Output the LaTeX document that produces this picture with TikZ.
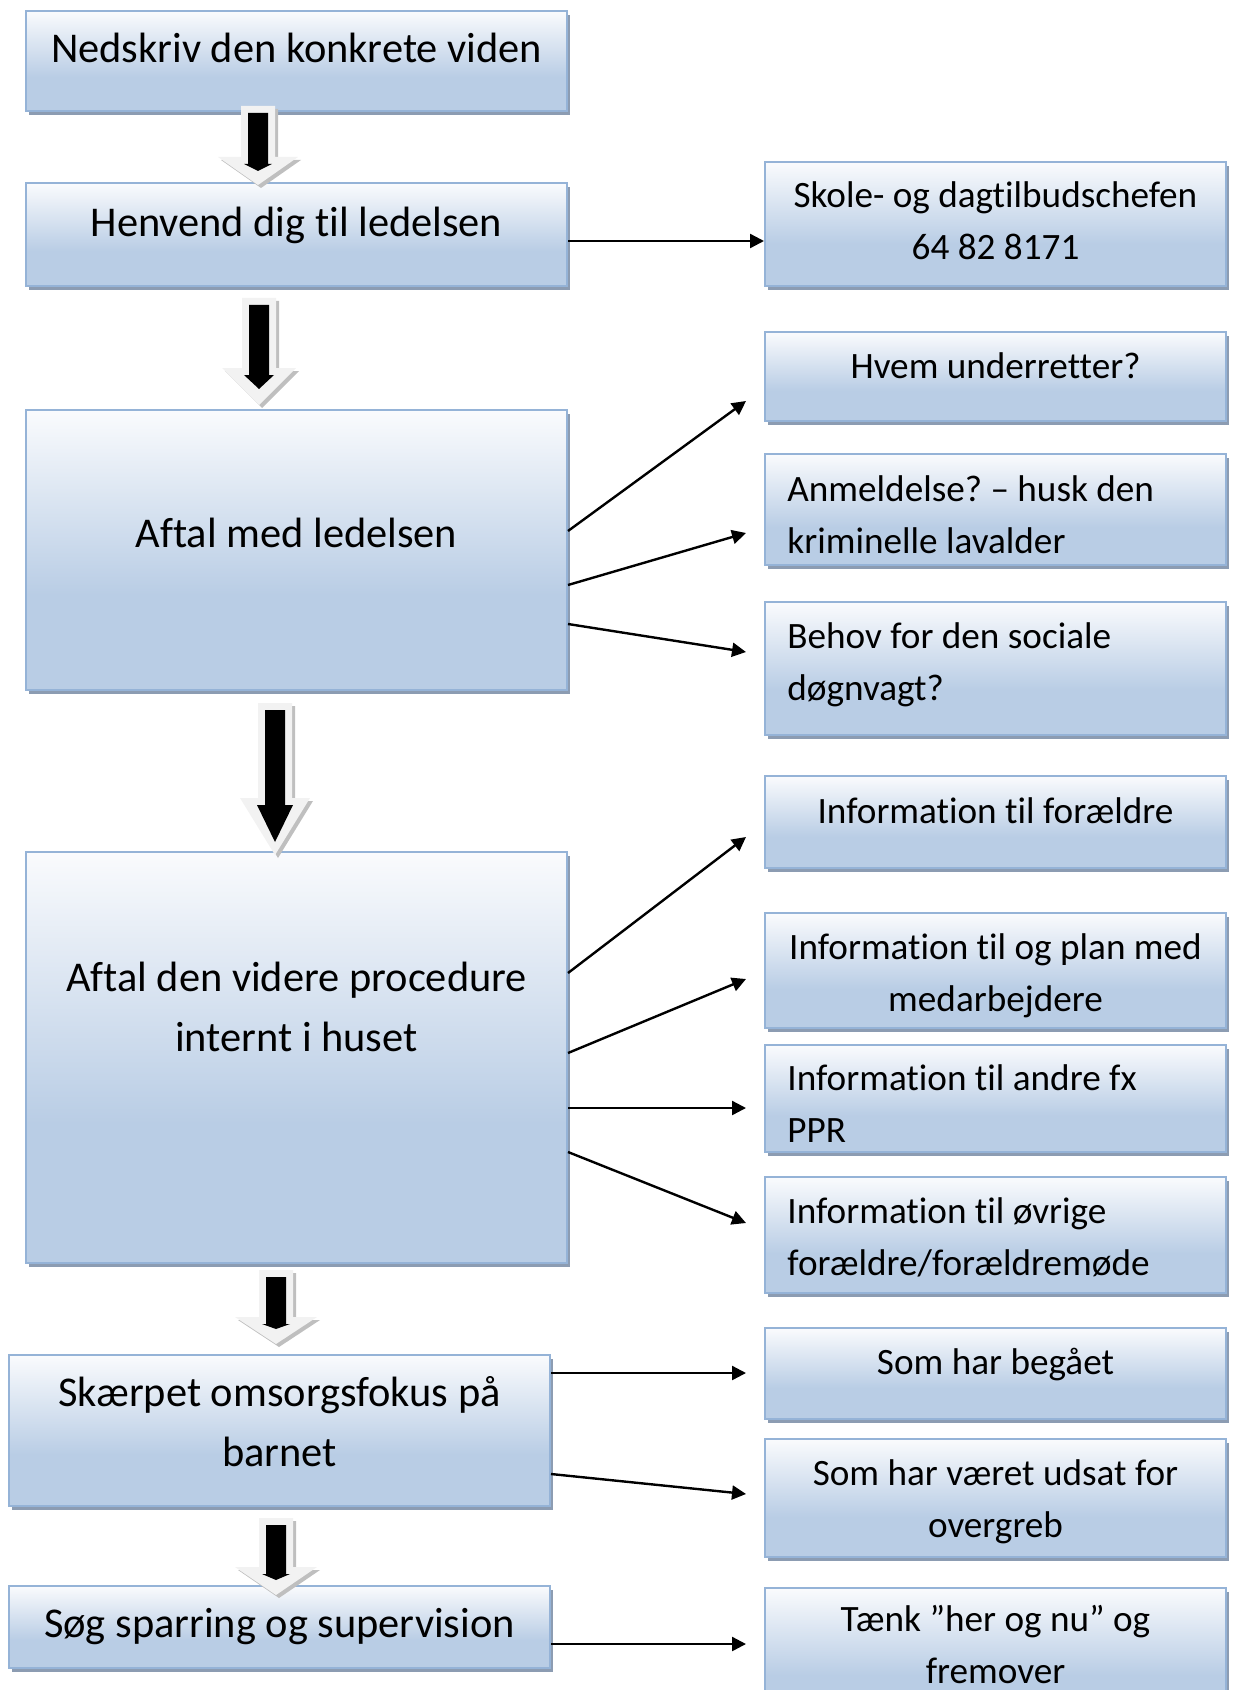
\documentclass[tikz,border=0pt]{standalone}
\usepackage{fontspec}
\setmainfont{Carlito}[Ligatures={TeX,NoCommon}]
\usetikzlibrary{shadows,arrows.meta,calc}

\definecolor{boxline}{RGB}{149,179,215}
\definecolor{boxtop}{RGB}{250,251,253}
\definecolor{boxbot}{RGB}{185,205,229}
\definecolor{boxshadow}{RGB}{140,156,178}
\definecolor{arrowbody}{RGB}{242,242,242}
\definecolor{arrowshadow}{RGB}{191,191,191}

\pgfdeclareverticalshading{boxfade}{100bp}{color(0bp)=(boxbot); color(25bp)=(boxbot); color(42bp)=(boxbot); color(75bp)=(boxtop); color(100bp)=(boxtop)}

\tikzset{
  box/.style={rectangle, draw=boxline, line width=1pt, shade, shading=boxfade,
    drop shadow={shadow xshift=1.5pt, shadow yshift=-2pt, fill=boxshadow, opacity=1}, inner sep=0pt},
  leftbox/.style={box, minimum width=270.5pt},
  rightbox/.style={box, minimum width=230.5pt},
  lefttext/.style={font=\fontsize{21.2}{30}\selectfont, align=center, anchor=base, inner sep=0pt},
  righttext/.style={font=\fontsize{18.6}{26}\selectfont, align=center, anchor=base, inner sep=0pt},
  lefttextl/.style={righttext, align=left, anchor=base west},
  link/.style={line width=1.2pt, -{Triangle[length=7pt,width=7pt]}}
}

% cx, top, head start, tip, outer head half width, inner head half width, inner tip
\newcommand{\blockarrow}[7]{%
  \fill[arrowshadow,shift={(3,3)}] (#1-17,#2) -- (#1+17,#2) -- (#1+17,#3) -- (#1+#5,#3) -- (#1,#4) -- (#1-#5,#3) -- (#1-17,#3) -- cycle;
  \fill[arrowbody] (#1-17,#2) -- (#1+17,#2) -- (#1+17,#3) -- (#1+#5,#3) -- (#1,#4) -- (#1-#5,#3) -- (#1-17,#3) -- cycle;
  \fill[black] (#1-10,#2+7) -- (#1+10,#2+7) -- (#1+10,#3+7) -- (#1+#6,#3+7) -- (#1,#7) -- (#1-#6,#3+7) -- (#1-10,#3+7) -- cycle;
}

\begin{document}
\frenchspacing
\begin{tikzpicture}[x=0.5pt,y=-0.5pt]
\useasboundingbox (0,0) rectangle (1235,1690);
\clip (0,0) rectangle (1235,1690);

% left column
\node[leftbox, minimum height=50pt] (b1) at (296.5,61) {};
\node[leftbox, minimum height=51.5pt] (b2) at (296.5,234.5) {};
\node[leftbox, minimum height=140pt] (b3) at (296.5,550) {};
\node[leftbox, minimum height=205.5pt] (b4) at (296.5,1057.5) {};
\node[leftbox, minimum height=75.5pt] (b5) at (279.5,1430.5) {};
\node[leftbox, minimum height=41pt] (b6) at (279.5,1627) {};

% multi-line text: base is the last line
\node[lefttext] (t1) at (296.5,63) {Nedskriv den konkrete viden};
\node[lefttext] (t2) at (296.5,237) {Henvend dig til ledelsen};
\node[lefttext] (t3) at (296.5,547) {Aftal med ledelsen};
\node[lefttext] (t4) at (296.5,1051) {Aftal den videre procedure\\internt i huset};
\node[lefttext] (t5) at (279.5,1466) {Skærpet omsorgsfokus på\\barnet};
\node[lefttext] (t6) at (279.5,1637) {Søg sparring og supervision};

% right column
\node[rightbox, minimum height=62pt] (r1) at (995.5,224) {};
\node[rightbox, minimum height=44.5pt] (r2) at (995.5,376.5) {};
\node[rightbox, minimum height=55.5pt] (r3) at (995.5,509.5) {};
\node[rightbox, minimum height=66.5pt] (r4) at (995.5,668.5) {};
\node[rightbox, minimum height=46pt] (r5) at (995.5,822) {};
\node[rightbox, minimum height=57.5pt] (r6) at (995.5,970.5) {};
\node[rightbox, minimum height=53.5pt] (r7) at (995.5,1098.5) {};
\node[rightbox, minimum height=58pt] (r8) at (995.5,1235) {};
\node[rightbox, minimum height=45.5pt] (r9) at (995.5,1373.5) {};
\node[rightbox, minimum height=59pt] (r10) at (995.5,1498) {};
\node[rightbox, minimum height=66pt] (r11) at (995.5,1654) {};

\node[righttext] (s1) at (995.5,260) {Skole- og dagtilbudschefen\\64 82 8171};
\node[righttext] (s2) at (995.5,379) {Hvem underretter?};
\node[lefttextl] (s3) at (787,553) {Anmeldelse? – husk den\\kriminelle lavalder};
\node[lefttextl] (s4) at (787,700) {Behov for den sociale\\døgnvagt?};
\node[righttext] (s5) at (995.5,823) {Information til forældre};
\node[righttext] (s6) at (995.5,1011) {Information til og plan med\\medarbejdere};
\node[lefttextl] (s7) at (787,1142) {Information til andre fx\\PPR};
\node[lefttextl] (s8) at (787,1275) {Information til øvrige\\forældre/forældremøde};
\node[righttext] (s9) at (995.5,1374) {Som har begået};
\node[righttext] (s10) at (995.5,1537) {Som har været udsat for\\overgreb};
\node[righttext] (s11) at (995.5,1683) {Tænk ”her og nu” og\\fremover};

% block arrows
\blockarrow{258}{106}{157}{185}{40}{14}{171}
\blockarrow{259}{298}{368}{405}{37}{15}{389}
\blockarrow{275}{703}{798}{855}{35}{18}{842}
\blockarrow{276}{1270}{1317}{1344}{41}{14}{1329}
\blockarrow{276}{1518}{1567}{1595}{41}{14}{1580}

% links
\draw[link] ($(b2.east)+(0,6.5)$) -- ($(r1.west)+(0,17)$);
\draw[link] ($(b3.east)+(0,-19)$) -- ($(r2.west)+(-18,24.5)$);
\draw[link] ($(b3.east)+(0,35)$) -- ($(r3.west)+(-18,23.5)$);
\draw[link] ($(b3.east)+(0,74)$) -- ($(r4.west)+(-18,-16.5)$);
\draw[link] ($(b4.east)+(0,-84.5)$) -- ($(r5.west)+(-18,15)$);
\draw[link] ($(b4.east)+(0,-4.5)$) -- ($(r6.west)+(-18,8.5)$);
\draw[link] ($(b4.east)+(0,50.5)$) -- ($(r7.west)+(-18,9.5)$);
\draw[link] ($(b4.east)+(0,94.5)$) -- ($(r8.west)+(-18,-12)$);
\draw[link] ($(b5.east)+(0,-57.5)$) -- ($(r9.west)+(-18,-0.5)$);
\draw[link] ($(b5.east)+(0,43.5)$) -- ($(r10.west)+(-18,-4)$);
\draw[link] ($(b6.east)+(0,17)$) -- ($(r11.west)+(-18,-10)$);
\end{tikzpicture}
\end{document}
